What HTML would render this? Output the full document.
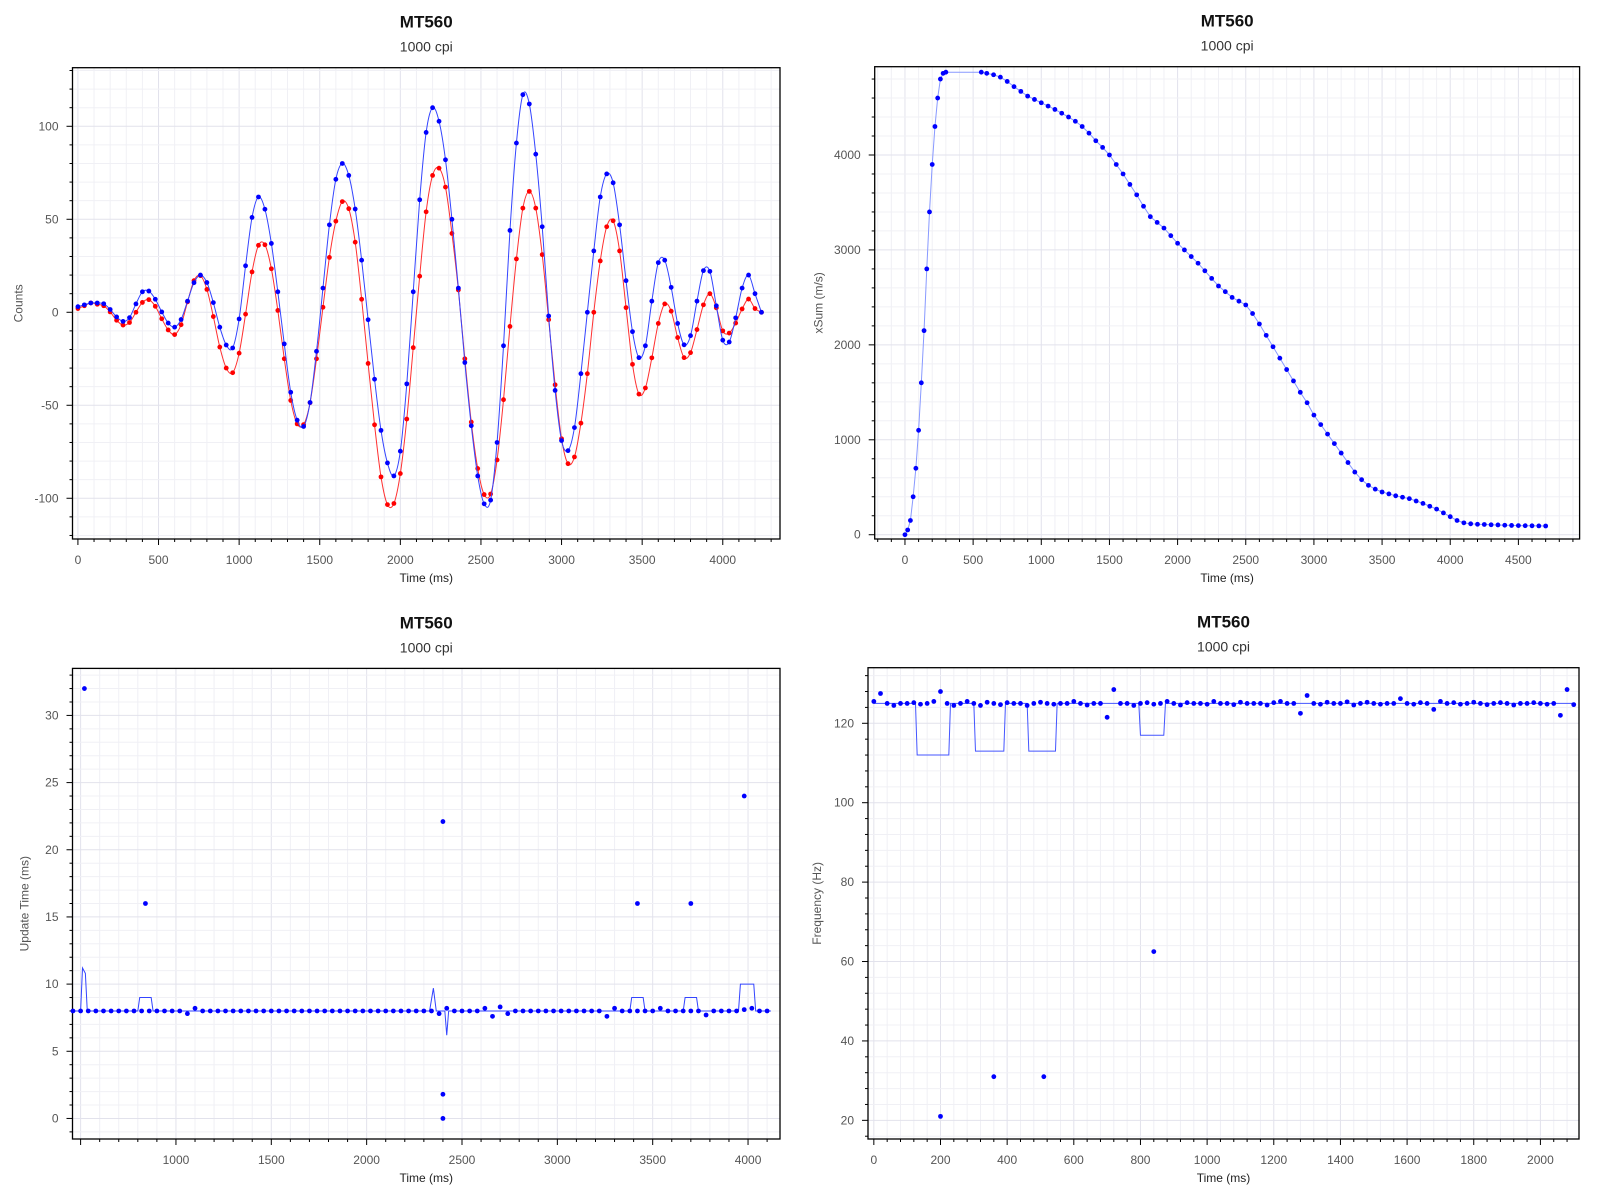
<!DOCTYPE html>
<html><head><meta charset="utf-8"><style>
html,body{margin:0;padding:0;background:#fff;width:1600px;height:1200px;overflow:hidden;font-family:"Liberation Sans",sans-serif}
svg{position:absolute;left:0;top:0}
</style></head><body>
<svg id="s" width="1600" height="1200" xmlns="http://www.w3.org/2000/svg"></svg>
<script>
// ---- Chart 1 data (Counts) ----
const countsStep = 40;
const blueCounts = [3,4,5,5,4.6,1.5,-2.5,-4.9,-2.9,4.5,11,11.4,7,0.2,-5.8,-8,-3.9,6,15.9,20,16,5.2,-8,-17.6,-19.2,-3.6,25,51,62,55.4,37,11,-17,-43,-58,-61.4,-48.5,-21,13,47,71.5,80,73.6,55.5,28,-4,-36,-63.5,-81,-88,-74.7,-38.5,11,60.5,96.7,110,102.7,82,50,13,-27,-61,-88,-103,-101,-70,-18,44,91,117,112,85,46,-2,-42,-69,-74.4,-62,-33,0,33,62,74.4,69.6,47,17,-10.4,-24.4,-18,6,26.7,28,13.4,-6,-17.5,-12.6,6,22.4,22,3.5,-15,-16,-3,13,20,10,0];
const redCounts = [2,3.5,5,4.3,3.5,0.2,-4.3,-6.9,-5.5,0,5.3,6.8,3.2,-3.5,-9.5,-12,-6.7,5.6,17,19.7,12.3,-2.3,-18.7,-30,-32.5,-22,-1,21.7,36,36.3,23.4,1,-25,-47.4,-60,-60.4,-48.6,-25,2.7,29.5,49,59.5,55.7,37.7,7,-27.5,-60.5,-88.5,-103.4,-102.8,-86.7,-57.4,-19,19.4,54,73.6,77.5,67.3,42.4,12,-25,-59,-84,-98,-97.7,-79.4,-47,-7.6,28.7,56,65,56,31,-4,-39,-68,-81.4,-77.8,-59.6,-33,0,27.6,46,49.2,33,2.5,-28,-44,-40.7,-24.5,-6,4.5,0.6,-13.6,-24.4,-21.7,-9.3,4,10,2.4,-10,-11.2,-5.8,1.8,7.1,2,0];
const countsXTicks = [0,500,1000,1500,2000,2500,3000,3500,4000];
const countsYTicks = [-100,-50,0,50,100];
// ---- Chart 2 data (xSum) ----
const xsumTimes = [0,20,40,60,80,100,120,140,160,180,200,220,240,260,280,300,560,600,650,700,750,800,850,900,950,1000,1050,1100,1150,1200,1250,1300,1350,1400,1450,1500,1550,1600,1650,1700,1750,1800,1850,1900,1950,2000,2050,2100,2150,2200,2250,2300,2350,2400,2450,2500,2550,2600,2650,2700,2750,2800,2850,2900,2950,3000,3050,3100,3150,3200,3250,3300,3350,3400,3450,3500,3550,3600,3650,3700,3750,3800,3850,3900,3950,4000,4050,4100,4150,4200,4250,4300,4350,4400,4450,4500,4550,4600,4650,4700];
const xsumValues = [0,50,150,400,700,1100,1600,2150,2800,3400,3900,4300,4600,4800,4860,4872,4872,4860,4845,4820,4775,4720,4670,4620,4585,4550,4515,4480,4440,4400,4355,4300,4230,4150,4080,4000,3900,3800,3690,3580,3460,3350,3290,3230,3150,3070,3000,2930,2860,2780,2700,2620,2560,2500,2460,2420,2330,2220,2100,1980,1860,1740,1620,1500,1390,1260,1160,1060,960,860,760,660,580,520,480,450,430,410,395,380,355,330,300,270,230,190,150,125,115,110,108,105,103,100,98,96,95,94,93,92];
const xsumXTicks = [0,500,1000,1500,2000,2500,3000,3500,4000,4500];
const xsumYTicks = [0,1000,2000,3000,4000];
// ---- Chart 3 data (Update time) ----
const updStart = 460, updStep = 40;
const updValues = [8,8,8,8,8,8,8,8,8,8,8,8,8,8,8,7.8,8.2,8,8,8,8,8,8,8,8,8,8,8,8,8,8,8,8,8,8,8,8,8,8,8,8,8,8,8,8,8,8,8,7.8,8.2,8,8,8,8,8.2,7.6,8.3,7.8,8,8,8,8,8,8,8,8,8,8,8,8,7.6,8.2,8,8,8,8,8,8.2,8,8,8,8,8,7.7,8,8,8,8,8.1,8.2,8,8];
const updOutT = [520,840,2400,2400,2400,3420,3700,3980];
const updOutV = [32,16,22.1,1.8,0,16,16,24];
const updLineT = [460,500,510,525,535,800,810,870,880,2330,2350,2365,2410,2420,2430,3380,3390,3450,3460,3660,3670,3730,3740,3950,3960,4030,4040,4120];
const updLineV = [8,8,11.2,10.8,8,8,9,9,8,8,9.7,8,8,6.2,8,8,9,9,8,8,9,9,8,8,10,10,8,8];
const updXTicks = [1000,1500,2000,2500,3000,3500,4000];
const updYTicks = [0,5,10,15,20,25,30];
// ---- Chart 4 data (Frequency) ----
const freqStart = 0, freqStep = 20;
const freqValues = [125.5,127.5,125,124.5,125,125,125.2,124.8,125,125.5,128,125,124.5,125,125.5,125,124.5,125.3,125,124.7,125.2,125,125,124.5,125,125.3,125,124.8,125,125,125.5,125,124.6,125,125,121.5,128.5,125,125,124.5,125,125.2,124.8,125,125.5,125,124.6,125.2,125,125,124.8,125.5,125,125,124.7,125.3,125,125,125,124.6,125.2,125.5,125,125,122.5,127,125,124.8,125.3,125,125,125.4,124.6,125,125.3,125,124.8,125,125,126.2,125,124.8,125.2,125,123.5,125.5,125,125.2,124.8,125,125.3,125,124.7,125,125.2,125,124.6,125,125,125.2,125,124.8,125,122,128.5,124.7];
const freqOutT = [200,360,510,840];
const freqOutV = [21,31,31,62.5];
const freqLineT = [0,125,130,225,230,300,305,390,395,460,465,545,550,795,800,870,875,2100];
const freqLineV = [125,125,112,112,125,125,113,113,125,125,113,113,125,125,117,117,125,125];
const freqXTicks = [0,200,400,600,800,1000,1200,1400,1600,1800,2000];
const freqYTicks = [20,40,60,80,100,120];

const NS = "http://www.w3.org/2000/svg";
const svg = document.getElementById('s');
function mk(tag, attrs, parent){ const e=document.createElementNS(NS,tag); for(const k in attrs) e.setAttribute(k,attrs[k]); (parent||svg).appendChild(e); return e; }
function txt(str, attrs, parent){ const e=mk('text',attrs,parent); e.textContent=str; return e; }

function makeChart(cfg){
  const g = mk('g',{});
  
  
  const [L,T,R,B] = cfg.box;
  const sx = v => L + (v-cfg.xr[0])/(cfg.xr[1]-cfg.xr[0])*(R-L);
  const sy = v => B - (v-cfg.yr[0])/(cfg.yr[1]-cfg.yr[0])*(B-T);
  const grid = mk('g',{},g);
  
  
  for(let v=Math.ceil(cfg.xr[0]/cfg.xMinor)*cfg.xMinor; v<=cfg.xr[1]; v+=cfg.xMinor){
    const x=sx(v); const major = Math.abs(v/cfg.xMajorGrid - Math.round(v/cfg.xMajorGrid))<1e-6;
    mk('line',{x1:x,x2:x,y1:T,y2:B,stroke:major?'#e2e2ec':'#f0f0f5','stroke-width':1},grid);
    const tl = major?6:3;
    mk('line',{x1:x,x2:x,y1:B,y2:B+tl,stroke:'#000','stroke-width':1},grid);
  }
  for(let v=Math.ceil(cfg.yr[0]/cfg.yMinor)*cfg.yMinor; v<=cfg.yr[1]; v+=cfg.yMinor){
    const y=sy(v); const major = Math.abs(v/cfg.yMajorGrid - Math.round(v/cfg.yMajorGrid))<1e-6;
    mk('line',{x1:L,x2:R,y1:y,y2:y,stroke:major?'#e2e2ec':'#f0f0f5','stroke-width':1},grid);
    const tl = major?6:3;
    mk('line',{x1:L-tl,x2:L,y1:y,y2:y,stroke:'#000','stroke-width':1},grid);
  }
  mk('rect',{x:L,y:T,width:R-L,height:B-T,fill:'none',stroke:'#000','stroke-width':1.3},g);
  cfg.xTicks.forEach(v=>{
    const t=txt(String(v),{x:sx(v),y:B+25,'text-anchor':'middle','font-size':12,fill:'#555'},g);
    
    
  });
  cfg.yTicks.forEach(v=>{
    const t=txt(String(v),{x:L-14,y:sy(v)+4,'text-anchor':'end','font-size':12,fill:'#555'},g);
    
    
  });
  const cx=(L+R)/2;
  const t1=txt('MT560',{x:cx,y:T-40,'text-anchor':'middle','font-size':17,'font-weight':'bold',fill:'#111'},g);
  
  
  const t2=txt('1000 cpi',{x:cx,y:T-16,'text-anchor':'middle','font-size':14,fill:'#333'},g);
  
  
  const xt=txt('Time (ms)',{x:cx,y:B+43,'text-anchor':'middle','font-size':12,fill:'#222'},g);
  
  
  const yx=L-cfg.yTitleOff, yy=(T+B)/2;
  const yt=txt(cfg.yTitle,{x:yx,y:yy,'text-anchor':'middle','font-size':12,fill:'#555',transform:`rotate(-90 ${yx} ${yy})`},g);
  
  
  return {g,sx,sy};
}
function smoothPath(pts){
  let d=`M${pts[0][0]},${pts[0][1]}`;
  for(let i=0;i<pts.length-1;i++){
    const p0=pts[i-1]||pts[i], p1=pts[i], p2=pts[i+1], p3=pts[i+2]||p2;
    const c1=[p1[0]+(p2[0]-p0[0])/6, p1[1]+(p2[1]-p0[1])/6];
    const c2=[p2[0]-(p3[0]-p1[0])/6, p2[1]-(p3[1]-p1[1])/6];
    d+=` C${c1[0]},${c1[1]} ${c2[0]},${c2[1]} ${p2[0]},${p2[1]}`;
  }
  return d;
}
function series(ch, ts, vs, color, lineColor, name, smooth, dots){
  const g=mk('g',{},ch.g);
  
  
  const pts = ts.map((t,i)=>[ch.sx(t), ch.sy(vs[i])]);
  if(lineColor){
    const d = smooth ? smoothPath(pts) : 'M'+pts.map(p=>p.join(',')).join(' L');
    mk('path',{d,fill:'none',stroke:lineColor,'stroke-width':1},g);
  }
  if(dots){
    pts.forEach(p=>{
      const c=mk('circle',{cx:p[0],cy:p[1],r:2.4,fill:color},g);
      
      
    });
  }
}

const c1 = makeChart({name:'counts-chart',box:[72.5,67.7,780,539],xr:[-33.6,4355],yr:[-121.9,131.5],xMinor:100,xMajorGrid:500,yMinor:10,yMajorGrid:50,xTicks:countsXTicks,yTicks:countsYTicks,yTitle:'Counts',yTitleOff:50});
const blueT = blueCounts.map((v,i)=>i*countsStep);
const redT = redCounts.map((v,i)=>i*countsStep);
series(c1, redT, redCounts, '#ff0000', '#ff3030', 'red-series', true, true);
series(c1, blueT, blueCounts, '#0000ff', '#3344ff', 'blue-series', true, true);

const c2 = makeChart({name:'xsum-chart',box:[874.7,66.7,1579.6,539],xr:[-222,4949],yr:[-45,4930],xMinor:100,xMajorGrid:500,yMinor:200,yMajorGrid:1000,xTicks:xsumXTicks,yTicks:xsumYTicks,yTitle:'xSum (m/s)',yTitleOff:52});
series(c2, xsumTimes, xsumValues, '#0000ff', '#8899ff', 'xsum-series', false, true);

const c3 = makeChart({name:'update-time-chart',box:[72.5,668.4,780,1139],xr:[457.5,4167.6],yr:[-1.53,33.5],xMinor:100,xMajorGrid:500,yMinor:1,yMajorGrid:5,xTicks:updXTicks,yTicks:updYTicks,yTitle:'Update Time (ms)',yTitleOff:44});
series(c3, updLineT, updLineV, '#0000ff', '#3344ff', 'update-time-line', false, false);
series(c3, updValues.map((v,i)=>updStart+i*updStep), updValues, '#0000ff', null, 'update-time-points', false, true);
series(c3, updOutT, updOutV, '#0000ff', null, 'update-time-outliers', false, true);

const c4 = makeChart({name:'frequency-chart',box:[868,667.7,1579,1139],xr:[-17.5,2115.8],yr:[15.3,134],xMinor:40,xMajorGrid:200,yMinor:4,yMajorGrid:20,xTicks:freqXTicks,yTicks:freqYTicks,yTitle:'Frequency (Hz)',yTitleOff:47});
series(c4, freqLineT, freqLineV, '#0000ff', '#4455ff', 'frequency-line', false, false);
series(c4, freqValues.map((v,i)=>freqStart+i*freqStep), freqValues, '#0000ff', null, 'frequency-points', false, true);
series(c4, freqOutT, freqOutV, '#0000ff', null, 'frequency-outliers', false, true);
</script>
</body></html>
